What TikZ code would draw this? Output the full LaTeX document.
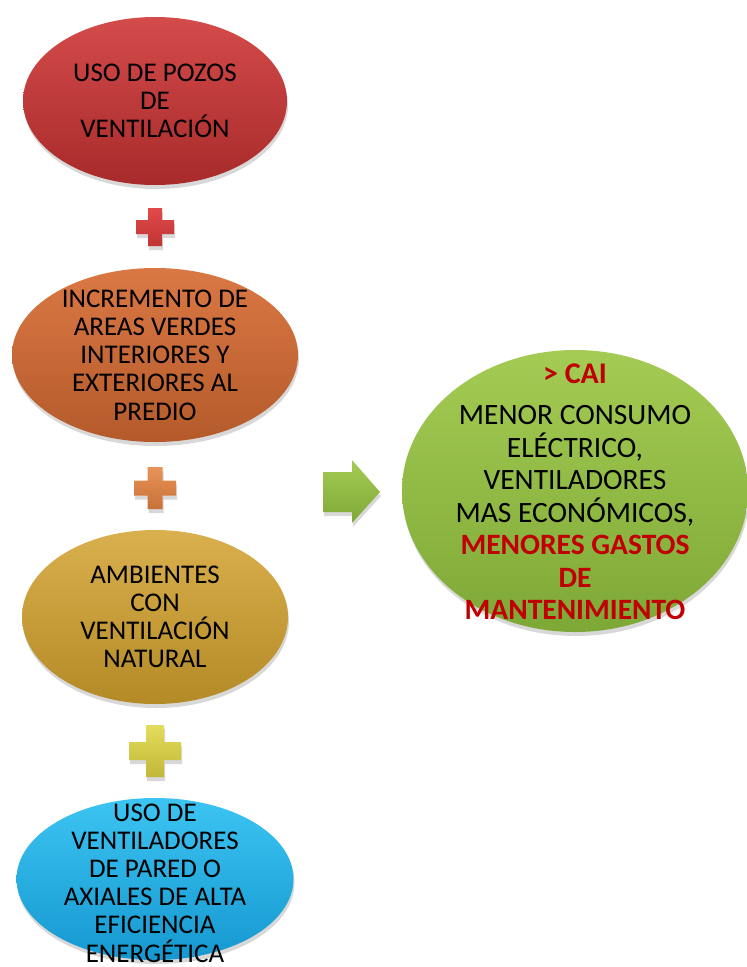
\documentclass[tikz,border=0pt]{standalone}
\usepackage{fontspec}
\setmainfont{Carlito}
\usetikzlibrary{shapes.geometric,shadows}
\definecolor{redT}{HTML}{D44B4B}
\definecolor{redB}{HTML}{A82A2A}
\definecolor{oraT}{HTML}{DA7844}
\definecolor{oraB}{HTML}{B45A2A}
\definecolor{golT}{HTML}{DAB04E}
\definecolor{golB}{HTML}{B48A26}
\definecolor{bluT}{HTML}{3CC4F2}
\definecolor{bluB}{HTML}{1598D0}
\definecolor{grnT}{HTML}{A4CC54}
\definecolor{grnB}{HTML}{7EA836}
\definecolor{redtxt}{HTML}{C00000}
\definecolor{plusR}{HTML}{E24A4A}
\definecolor{plusRb}{HTML}{C03434}
\definecolor{plusO}{HTML}{E89458}
\definecolor{plusOb}{HTML}{C87038}
\definecolor{plusY}{HTML}{E4DC5C}
\definecolor{plusYb}{HTML}{C2B838}
\newcommand\myplus[6]{%
  \begin{scope}[shift={(#1,#2)}]
    \path[top color=#5, bottom color=#6, softshadow]
      (-#4,-#3) -- (#4,-#3) -- (#4,-#4) -- (#3,-#4) -- (#3,#4) -- (#4,#4)
      -- (#4,#3) -- (-#4,#3) -- (-#4,#4) -- (-#3,#4) -- (-#3,-#4) -- (-#4,-#4) -- cycle;
  \end{scope}}
\begin{document}
\begin{tikzpicture}[x=1pt,y=-1pt,
  softshadow/.style={drop shadow={shadow xshift=1pt, shadow yshift=-4pt, opacity=0.25, fill=black!60}},
  bubble/.style={ellipse, inner sep=0pt, softshadow},
  btext/.style={inner sep=0pt, align=center, font=\fontsize{27}{28.2}\selectfont},
  gtext/.style={inner sep=0pt, align=center, font=\fontsize{29.5}{32.5}\selectfont},
  hl/.style={text=redtxt, font=\bfseries}]
\clip (0,0) rectangle (747,967);
\fill[white] (0,0) rectangle (747,967);

\node[bubble, minimum width=264, minimum height=168, top color=redT, bottom color=redB]
  (pozos) at (155,101) {};
\node[btext] (pozosT) at (pozos.center) {USO DE POZOS\\DE\\VENTILACIÓN};

\node[bubble, minimum width=286, minimum height=174, top color=oraT, bottom color=oraB]
  (verdes) at (155,355) {};
\node[btext] (verdesT) at (verdes.center) {INCREMENTO DE\\AREAS VERDES\\INTERIORES Y\\EXTERIORES AL\\PREDIO};

\node[bubble, minimum width=266, minimum height=174, top color=golT, bottom color=golB]
  (natural) at (155,617) {};
\node[btext] (naturalT) at (natural.center) {AMBIENTES\\CON\\VENTILACIÓN\\NATURAL};

\node[bubble, minimum width=277, minimum height=162, top color=bluT, bottom color=bluB]
  (ventil) at (155,879) {};
\node[btext] (ventilT) at ([yshift=-4pt]ventil.center) {USO DE\\VENTILADORES\\DE PARED O\\AXIALES DE ALTA\\EFICIENCIA\\ENERGÉTICA};

\node[bubble, minimum width=346, minimum height=282, top color=grnT, bottom color=grnB]
  (cai) at (575,491) {};
\node[gtext] (caiT) at ([yshift=-1pt]cai.center) {{\color{redtxt}\bfseries\fontsize{30}{32}\selectfont > CAI}\\[9pt]
  MENOR CONSUMO\\ELÉCTRICO,\\VENTILADORES\\MAS ECONÓMICOS,\\
  {\color{redtxt}\bfseries MENORES GASTOS}\\{\color{redtxt}\bfseries DE}\\
  {\color{redtxt}\bfseries MANTENIMIENTO}};

\myplus{155}{227}{19}{7}{plusR}{plusRb}
\myplus{155}{488}{21}{7.5}{plusO}{plusOb}
\myplus{155}{751}{26}{9}{plusY}{plusYb}

\path[top color=grnT, bottom color=grnB, softshadow]
  (323,472) -- (352,472) -- (352,460) -- (380,492) -- (352,523) -- (352,512) -- (323,512) -- cycle;
\end{tikzpicture}
\end{document}
